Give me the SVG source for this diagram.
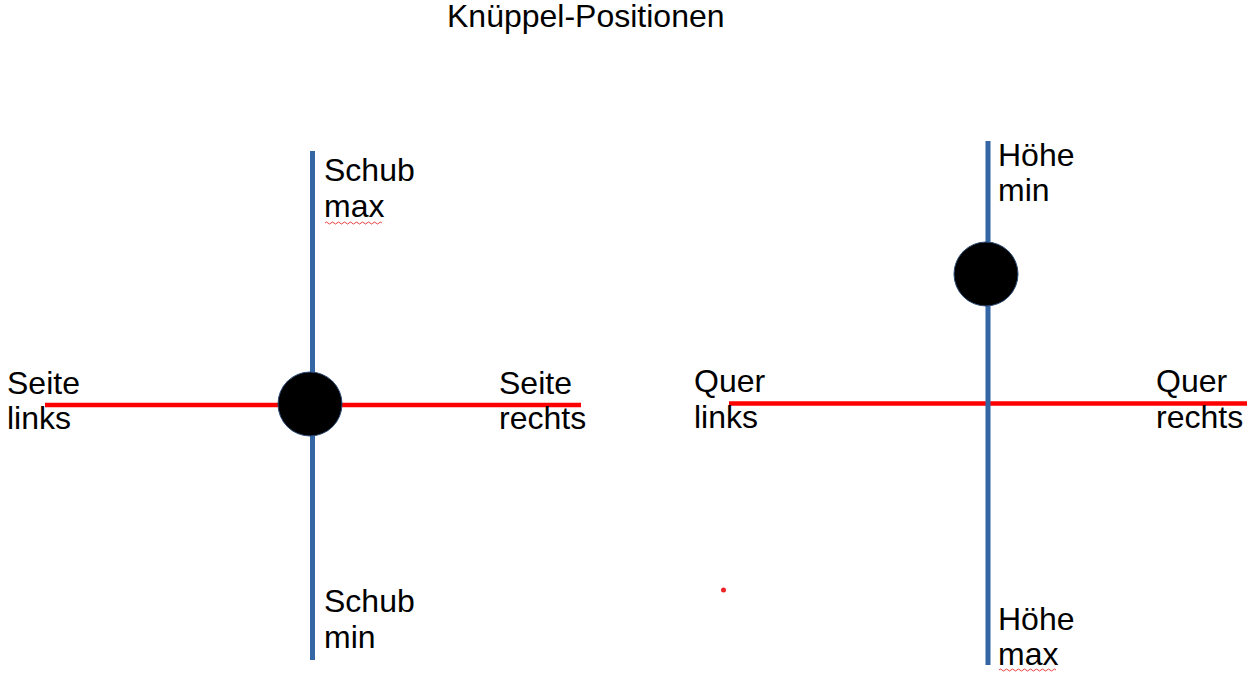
<svg xmlns="http://www.w3.org/2000/svg" width="1257" height="691" viewBox="0 0 1257 691">
<style>
  text { font-family: "Liberation Sans", Arial, sans-serif; font-size: 32px; fill: #000; }
  .blue { stroke: #3465a4; stroke-width: 5; fill: none; }
  .red { stroke: #ff0000; stroke-width: 4.5; fill: none; }
  .knob { fill: #000; stroke: #2a4a75; stroke-width: 1; }
  .squiggle { stroke: #e84040; stroke-width: 1; fill: none; }
</style>
<rect width="1257" height="691" fill="#ffffff"/>
<g id="title"><text x="447" y="27">Knüppel-Positionen</text></g>
<g id="connectors">
  <line class="red" x1="45" y1="405" x2="581" y2="405"/>
  <line class="blue" x1="312.5" y1="151" x2="312.5" y2="660"/>
  <line class="red" x1="729" y1="403.5" x2="1247" y2="403.5"/>
  <line class="blue" x1="988" y1="141" x2="988" y2="665"/>
</g>
<g id="knob-left"><circle class="knob" cx="310" cy="404" r="32"/></g>
<g id="knob-right"><circle class="knob" cx="986" cy="274" r="32"/></g>
<g id="label-schub-max"><text x="324" y="181">Schub</text><text x="324" y="217">max</text>
  <path class="squiggle" d="M325 223 q1.5 -2 3 0 t3 0 t3 0 t3 0 t3 0 t3 0 t3 0 t3 0 t3 0 t3 0 t3 0 t3 0 t3 0 t3 0 t3 0 t3 0 t3 0 t3 0 t3 0"/></g>
<g id="label-schub-min"><text x="324" y="612">Schub</text><text x="324" y="648">min</text></g>
<g id="label-seite-links"><text x="7" y="394">Seite</text><text x="7" y="429">links</text></g>
<g id="label-seite-rechts"><text x="499" y="394">Seite</text><text x="499" y="429">rechts</text></g>
<g id="label-quer-links"><text x="694" y="392">Quer</text><text x="694" y="428">links</text></g>
<g id="label-quer-rechts"><text x="1156" y="392">Quer</text><text x="1156" y="428">rechts</text></g>
<g id="label-hoehe-min"><text x="998" y="166">Höhe</text><text x="998" y="201">min</text></g>
<g id="label-hoehe-max"><text x="998" y="630">Höhe</text><text x="998" y="665">max</text>
  <path class="squiggle" d="M999 670 q1.5 -2 3 0 t3 0 t3 0 t3 0 t3 0 t3 0 t3 0 t3 0 t3 0 t3 0 t3 0 t3 0 t3 0 t3 0 t3 0 t3 0 t3 0 t3 0 t3 0"/></g>
<circle cx="723.5" cy="590" r="2.5" fill="#ee2222"/>
</svg>
